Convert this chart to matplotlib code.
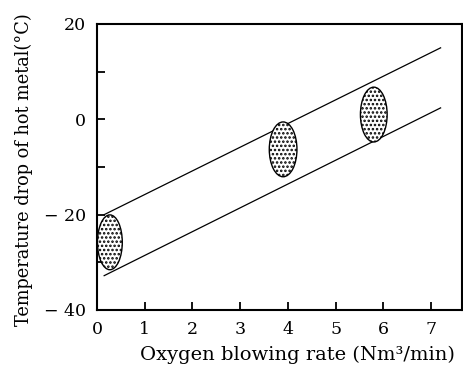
import matplotlib.pyplot as plt
from matplotlib.patches import Ellipse

plt.rcParams['font.family'] = ['DejaVu Serif']
plt.rcParams['hatch.linewidth'] = 1.2

# band lines (x, y end points)
upper_x = [0.15, 7.2]
upper_y = [-20.0, 15.0]
lower_x = [0.15, 7.2]
lower_y = [-32.8, 2.4]

# data clusters: centre x, centre y, width, height
clus_x = [0.27, 3.9, 5.8]
clus_y = [-25.8, -6.3, 1.0]
clus_w = [0.52, 0.58, 0.56]
clus_h = [11.5, 11.5, 11.5]

yticks = [20, 10, 0, -10, -20, -30, -40]
ylabels = ['20', '', '0', '', '\u2212 20', '', '\u2212 40']
xticks = [0, 1, 2, 3, 4, 5, 6, 7]

fig = plt.figure(figsize=(4.63, 3.72), dpi=100)
ax = fig.add_axes([0.2095, 0.1667, 0.7885, 0.7688])

ax.plot(upper_x, upper_y, color='black', lw=0.9)
ax.plot(lower_x, lower_y, color='black', lw=0.9)

for cx, cy, w, h in zip(clus_x, clus_y, clus_w, clus_h):
    e = Ellipse((cx, cy), w, h, facecolor='white', edgecolor='black',
                hatch='....', lw=1.0, zorder=3)
    ax.add_patch(e)

ax.set_xlim(0, 7.65)
ax.set_ylim(-40, 20)
ax.set_xticks(xticks)
ax.set_yticks(yticks)
ax.set_yticklabels(ylabels)
ax.tick_params(direction='in', length=6, width=1.3, labelsize=12.5, pad=8)
for s in ax.spines.values():
    s.set_linewidth(1.5)

ax.set_xlabel('Oxygen blowing rate (Nm\u00b3/min)', fontsize=14)
ax.xaxis.set_label_coords(0.55, -0.125)
ax.set_ylabel('Temperature drop of hot metal(\u00b0C)', fontsize=12.8)
ax.yaxis.set_label_coords(-0.175, 0.49)

fig.savefig('out.png', dpi=100)
